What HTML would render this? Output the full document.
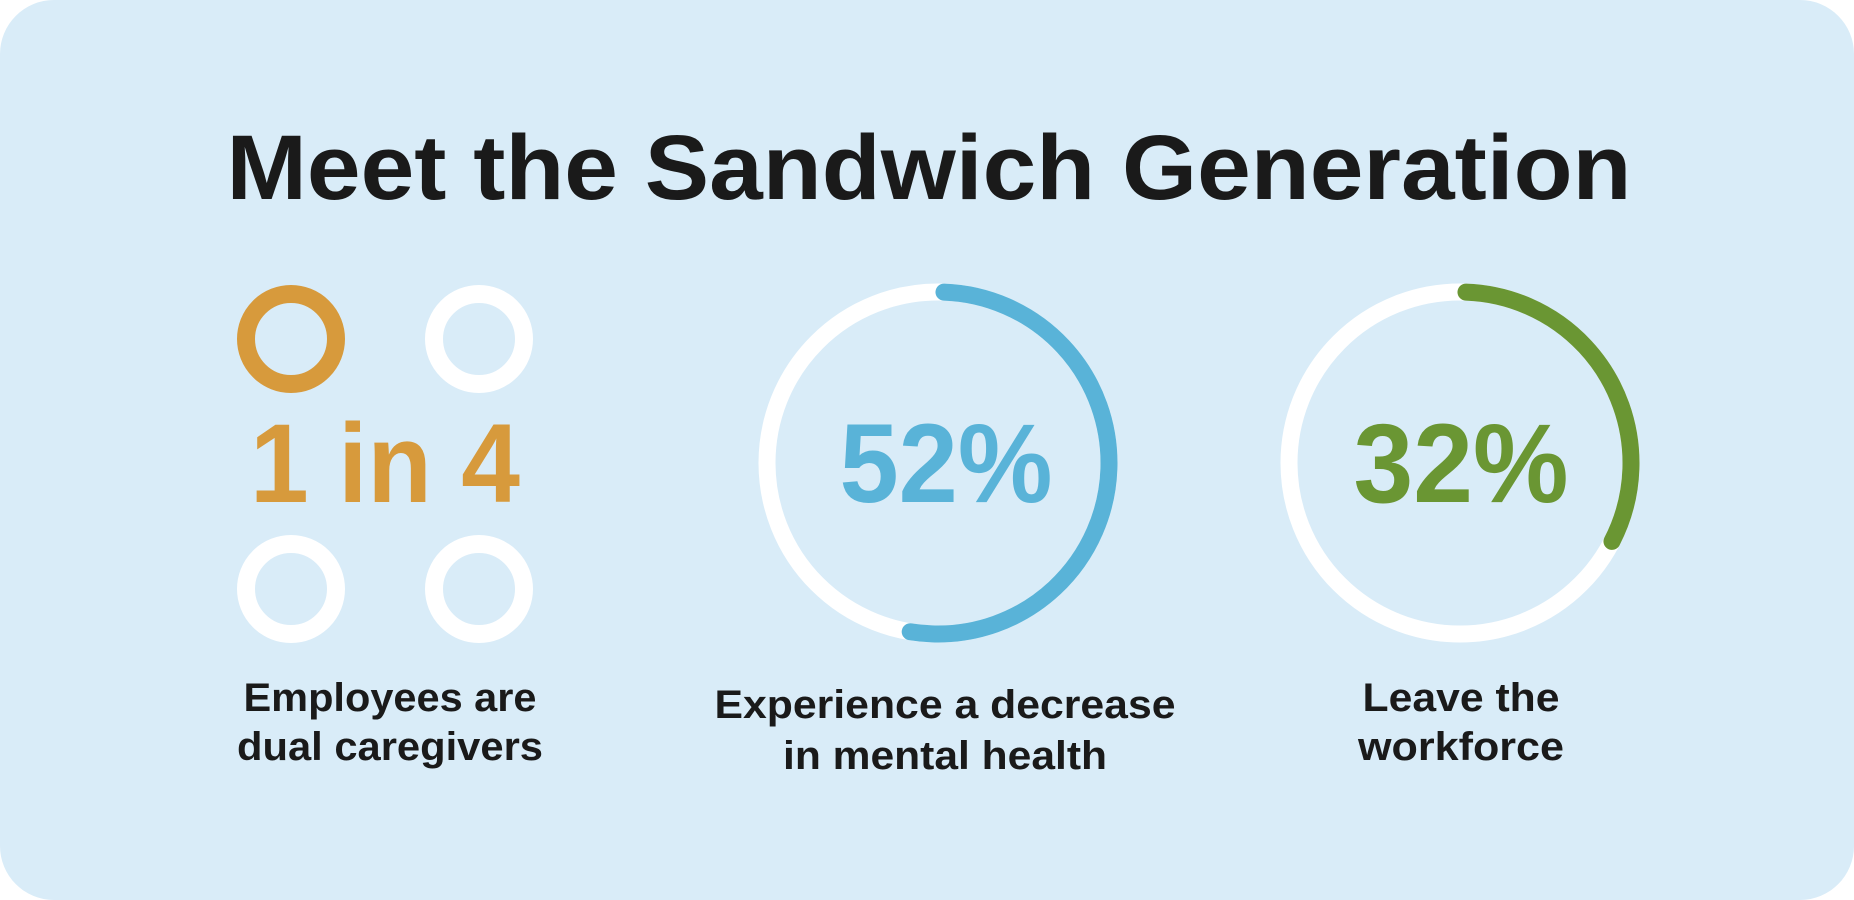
<!DOCTYPE html>
<html><head><meta charset="utf-8"><style>
html,body{margin:0;padding:0;background:#fff;}
svg{display:block;}
text{font-family:"Liberation Sans",sans-serif;font-weight:bold;}
</style></head><body>
<svg width="1854" height="900" viewBox="0 0 1854 900">
<rect x="0" y="0" width="1854" height="900" rx="54" fill="#d9ecf8"/>
<text x="929" y="199" font-size="92" fill="#1a1a1a" text-anchor="middle" textLength="1405" lengthAdjust="spacingAndGlyphs">Meet the Sandwich Generation</text>
<g fill="none" stroke-width="18">
<circle cx="291" cy="339" r="45" stroke="#d79a3c"/>
<circle cx="479" cy="339" r="45" stroke="#fff"/>
<circle cx="291" cy="589" r="45" stroke="#fff"/>
<circle cx="479" cy="589" r="45" stroke="#fff"/>
</g>
<text x="385" y="502" font-size="112" fill="#d79a3c" text-anchor="middle" textLength="270" lengthAdjust="spacingAndGlyphs">1 in 4</text>
<g fill="none" stroke-width="17">
<circle cx="938" cy="463" r="171" stroke="#fff"/>
<circle cx="938" cy="463" r="171" stroke="#59b3d8" stroke-linecap="round" stroke-dasharray="559 2000" transform="rotate(-88 938 463)"/>
<circle cx="1460" cy="463" r="171" stroke="#fff"/>
<circle cx="1460" cy="463" r="171" stroke="#6a9633" stroke-linecap="round" stroke-dasharray="344 2000" transform="rotate(-88 1460 463)"/>
</g>
<text x="946" y="502" font-size="112" fill="#59b3d8" text-anchor="middle" textLength="213" lengthAdjust="spacingAndGlyphs">52%</text>
<text x="1461" y="502" font-size="112" fill="#6a9633" text-anchor="middle" textLength="215" lengthAdjust="spacingAndGlyphs">32%</text>
<g font-size="40" fill="#1a1a1a" text-anchor="middle">
<text x="390" y="711" textLength="293" lengthAdjust="spacingAndGlyphs">Employees are</text>
<text x="390" y="760" textLength="306" lengthAdjust="spacingAndGlyphs">dual caregivers</text>
<text x="945" y="718" textLength="461" lengthAdjust="spacingAndGlyphs">Experience a decrease</text>
<text x="945" y="769" textLength="324" lengthAdjust="spacingAndGlyphs">in mental health</text>
<text x="1461" y="711" textLength="197" lengthAdjust="spacingAndGlyphs">Leave the</text>
<text x="1461" y="760" textLength="206" lengthAdjust="spacingAndGlyphs">workforce</text>
</g>
</svg>
</body></html>
